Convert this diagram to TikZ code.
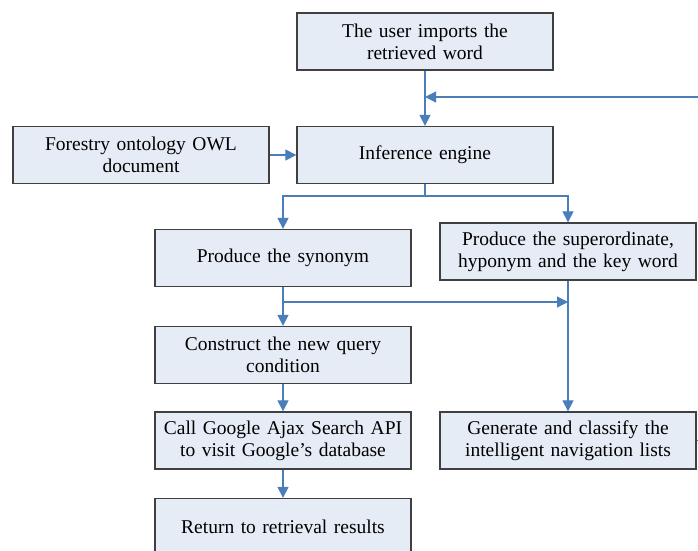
\documentclass[tikz,border=0pt]{standalone}
\usepackage{fontspec}
\setmainfont{Liberation Serif}
\usetikzlibrary{arrows.meta}
\definecolor{boxfill}{HTML}{E6ECF6}
\definecolor{boxline}{HTML}{404040}
\definecolor{flow}{HTML}{4A7EBB}
\tikzset{
  stage/.style={draw=boxline, line width=1.3, fill=boxfill, minimum width=256, minimum height=57,
    inner sep=0, text width=252, align=center, font=\fontsize{19.5}{22}\selectfont},
  flowline/.style={draw=flow, line width=1.2},
  flowarrow/.style={flowline, -{Triangle[length=11, width=11]}},
}
\begin{document}
\begin{tikzpicture}[x=1pt, y=-1pt]
      \useasboundingbox (0, 0) rectangle (698, 550);
      \clip (0, 0) rectangle (698, 550);

      % input
      \node[stage] (userword) at (425, 41.5) {The user imports the\\retrieved word};
      \node[stage] (owldoc) at (141, 155) {Forestry ontology OWL\\document};
      \node[stage] (engine) at (425, 155) {Inference engine};

      % left column
      \node[stage] (synonym) at (283, 258) {Produce the synonym};
      \node[stage] (query) at (283, 355) {Construct the new query\\condition};
      \node[stage] (ajax) at (283, 440.5) {Call Google Ajax Search API\\to visit Google’s database};
      \node[stage] (results) at (283, 527) {Return to retrieval results};

      % right column
      \node[stage] (superord) at (568, 251.5) {Produce the superordinate,\\hyponym and the key word};
      \node[stage] (navlists) at (568, 440.5) {Generate and classify the\\intelligent navigation lists};

      % junction points
      \coordinate (feedin) at (425, 97);
      \coordinate (feedout) at (710, 97);
      \coordinate (split) at (425, 196);
      \coordinate (branch) at (283, 302);
      \coordinate (merge) at (568, 302);
      \coordinate (navout) at (710, 440.5);

      % user word and OWL document into the engine
      \draw[flowarrow] (userword.south) -- (engine.north);
      \draw[flowarrow] (feedout) -- (feedin);
      \draw[flowarrow] (owldoc.east) -- (engine.west);

      % engine splits in two
      \draw[flowline] (engine.south) -- (split);
      \draw[flowarrow] (split) -| (synonym.north);
      \draw[flowarrow] (split) -| (superord.north);

      % synonym
      \draw[flowarrow] (synonym.south) -- (query.north);
      \draw[flowarrow] (branch) -- (merge);

      % superordinate
      \draw[flowarrow] (superord.south) -- (navlists.north);
      \draw[flowline] (navlists.east) -- (navout);

      % query to results
      \draw[flowarrow] (query.south) -- (ajax.north);
      \draw[flowarrow] (ajax.south) -- (results.north);
    \end{tikzpicture}
\end{document}
